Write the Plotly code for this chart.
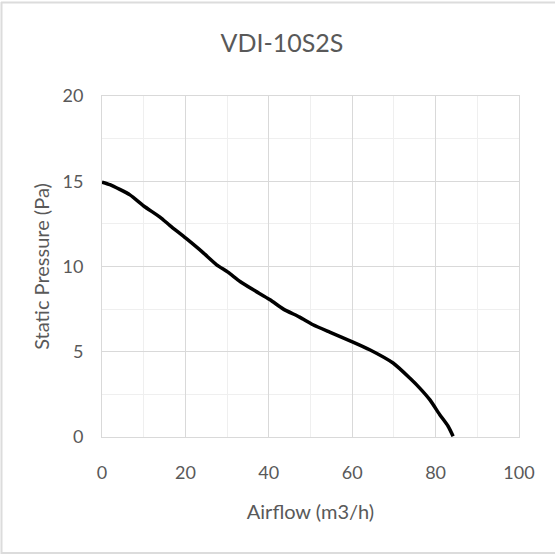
import plotly.graph_objects as go

airflow = [0, 1.9, 6.7, 10.0, 13.9, 16.3, 20.1, 24.3, 27.5, 30.2, 33.1, 36.3, 40.3,
           43.5, 47.4, 50.6, 54.6, 59.9, 64.2, 69.8, 73.8, 76.2, 78.6, 81.0, 83.0, 84.2]
pressure = [14.95, 14.8, 14.2, 13.55, 12.9, 12.4, 11.66, 10.8, 10.1, 9.67, 9.12, 8.63, 8.05,
            7.5, 7.03, 6.58, 6.15, 5.6, 5.12, 4.34, 3.46, 2.87, 2.19, 1.31, 0.63, 0.04]
chart_title = "VDI-10S2S"
x_title = "Airflow (m3/h)"
y_title = "Static Pressure (Pa)"

FONT = "Lato, Roboto, sans-serif"

# plot area in pixels: x 102..519, y 96..437
def px_x(p):
    return (p - 102) / 417

def px_y(p):
    return (437 - p) / 341

border = dict(color="#dcdcdc", width=2)

fig = go.Figure()
fig.add_trace(go.Scatter(x=airflow, y=pressure, mode="lines",
                         line=dict(color="#000000", width=3.5, shape="spline", smoothing=0.6),
                         showlegend=False, hoverinfo="skip"))

fig.update_layout(
    width=555, height=555,
    paper_bgcolor="white", plot_bgcolor="white",
    margin=dict(l=102, r=36, t=96, b=118),
    title=dict(text=chart_title, x=(282) / 555, xref="container", xanchor="center",
               y=1 - 43 / 555, yref="container", yanchor="middle",
               font=dict(family=FONT, size=25, color="#595959")),
    font=dict(family=FONT, color="#595959"),
    xaxis=dict(range=[0, 100], dtick=20, tick0=0,
               showgrid=True, gridcolor="#d9d9d9", gridwidth=1,
               minor=dict(dtick=10, showgrid=True, gridcolor="#efefef", gridwidth=1),
               showline=True, linecolor="#d9d9d9", linewidth=1, mirror=True,
               zeroline=False,
               ticks="outside", ticklen=19, tickcolor="rgba(0,0,0,0)",
               tickfont=dict(family=FONT, size=18, color="#595959"),
               title=dict(text=x_title, standoff=23,
                          font=dict(family=FONT, size=20, color="#595959"))),
    yaxis=dict(range=[0, 20], dtick=5, tick0=0,
               showgrid=True, gridcolor="#d9d9d9", gridwidth=1,
               minor=dict(dtick=2.5, showgrid=True, gridcolor="#efefef", gridwidth=1),
               showline=True, linecolor="#d9d9d9", linewidth=1, mirror=True,
               zeroline=False,
               ticks="outside", ticklen=14, tickcolor="rgba(0,0,0,0)",
               tickfont=dict(family=FONT, size=18, color="#595959"),
               title=dict(text=y_title, standoff=7,
                          font=dict(family=FONT, size=20, color="#595959"))),
    shapes=[
        dict(type="line", xref="paper", yref="paper",
             x0=px_x(1.5), x1=px_x(1.5), y0=px_y(2), y1=px_y(554), line=border),
        dict(type="line", xref="paper", yref="paper",
             x0=px_x(1), x1=px_x(556), y0=px_y(2.5), y1=px_y(2.5), line=border),
        dict(type="line", xref="paper", yref="paper",
             x0=px_x(1), x1=px_x(556), y0=px_y(553), y1=px_y(553), line=border),
    ],
)

fig.write_html("out.html", config={"displayModeBar": False},
               post_script="document.body.style.margin='0px';")
